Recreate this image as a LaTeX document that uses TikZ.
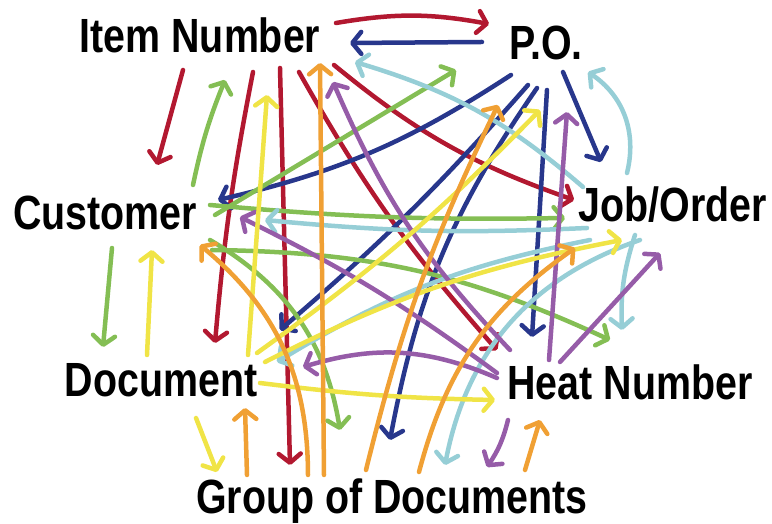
\documentclass[tikz,border=0pt]{standalone}
\usepackage{fontspec}
\setmainfont{Liberation Sans}
\usetikzlibrary{arrows.meta,calc}
\definecolor{itemred}{HTML}{B21830}
\definecolor{poblue}{HTML}{28378C}
\definecolor{custgreen}{HTML}{84BE54}
\definecolor{jobcyan}{HTML}{96CED6}
\definecolor{heatpurple}{HTML}{965CA8}
\definecolor{docyellow}{HTML}{F0E446}
\definecolor{grouporange}{HTML}{F0A034}
\begin{document}
\begin{tikzpicture}[x=1pt,y=1pt,
  entity/.style={font=\fontsize{48}{50}\selectfont\bfseries, xscale=0.82, anchor=base, inner sep=0pt},
  link/.style={line width=4.5pt, line cap=round, -{Straight Barb[length=9pt,width=22pt,round]}}]
\useasboundingbox (0,0) rectangle (772,524);
\node[entity] (item) at (200,471) {Item Number};
\node[entity] (po) at (546,464) {P.O.};
\node[entity] (cust) at (105,294) {Customer};
\node[entity] (job) at (673,302) {Job/Order};
\node[entity] (doc) at (161,127) {Document};
\node[entity] (heat) at (630,124) {Heat Number};
\node[entity] (group) at (392,10) {Group of Documents};
% item number
\draw[link,itemred] ($(item.base)+(136,30)$) to[bend left=10] ($(po.base)+(-57,36)$);
\draw[link,itemred] ($(item.base)+(-17,-17)$) -- ($(cust.base)+(52,65)$);
\draw[link,itemred] ($(item.base)+(53,-19)$) to[bend right=3] ($(doc.base)+(54,54)$);
\draw[link,itemred] ($(item.base)+(80,-15)$) -- ($(group.base)+(-102,49)$);
\draw[link,itemred] ($(item.base)+(134,-12)$) to[bend right=10] ($(job.base)+(-99,22)$);
\draw[link,itemred] ($(item.base)+(99,-19)$) to[bend right=6] ($(heat.base)+(-133,50)$);
% p.o.
\draw[link,poblue] ($(po.base)+(-64,18)$) -- ($(item.base)+(150,10)$);
\draw[link,poblue] ($(po.base)+(-35,-15)$) to[bend left=10] ($(cust.base)+(113,30)$);
\draw[link,poblue] ($(po.base)+(-18,-25)$) to[bend left=4] ($(doc.base)+(119,67)$);
\draw[link,poblue] ($(po.base)+(-9,-28)$) to[bend right=12] ($(group.base)+(-2,74)$);
\draw[link,poblue] ($(po.base)+(1,-30)$) -- ($(heat.base)+(-98,63)$);
\draw[link,poblue] ($(po.base)+(17,-12)$) -- ($(job.base)+(-72,60)$);
% customer
\draw[link,custgreen] ($(cust.base)+(88,45)$) to[bend left=5] ($(item.base)+(25,-27)$);
\draw[link,custgreen] ($(cust.base)+(110,15)$) -- ($(po.base)+(-90,-10)$);
\draw[link,custgreen] ($(cust.base)+(105,25)$) to[bend right=3] ($(job.base)+(-108,4)$);
\draw[link,custgreen] ($(cust.base)+(107,-20)$) to[bend left=12] ($(heat.base)+(-20,60)$);
\draw[link,custgreen] ($(cust.base)+(105,-10)$) to[bend left=25] ($(group.base)+(-52,84)$);
\draw[link,custgreen] ($(cust.base)+(7,-18)$) -- ($(doc.base)+(-58,50)$);
% job/order
\draw[link,jobcyan] ($(job.base)+(-46,49)$) to[bend right=35] ($(po.base)+(42,-12)$);
\draw[link,jobcyan] ($(job.base)+(-90,35)$) to[bend right=12] ($(item.base)+(155,-9)$);
\draw[link,jobcyan] ($(job.base)+(-86,-6)$) to[bend left=4] ($(cust.base)+(160,10)$);
\draw[link,jobcyan] ($(job.base)+(-83,-18)$) to[bend right=10] ($(doc.base)+(116,35)$);
\draw[link,jobcyan] ($(job.base)+(-33,-18)$) to[bend right=30] ($(group.base)+(53,49)$);
\draw[link,jobcyan] ($(job.base)+(-38,-13)$) to[bend right=10] ($(heat.base)+(-8,70)$);
% heat number
\draw[link,heatpurple] ($(heat.base)+(-120,50)$) to[bend left=10] ($(item.base)+(133,-29)$);
\draw[link,heatpurple] ($(heat.base)+(-133,27)$) to[bend right=5] ($(cust.base)+(135,13)$);
\draw[link,heatpurple] ($(heat.base)+(-133,22)$) to[bend right=20] ($(doc.base)+(142,30)$);
\draw[link,heatpurple] ($(heat.base)+(-81,40)$) -- ($(po.base)+(21,-52)$);
\draw[link,heatpurple] ($(heat.base)+(-70,38)$) -- ($(job.base)+(-13,-31)$);
\draw[link,heatpurple] ($(heat.base)+(-122,-20)$) to[bend left=10] ($(group.base)+(95,47)$);
% document
\draw[link,docyellow] ($(doc.base)+(-14,42)$) -- ($(cust.base)+(47,-20)$);
\draw[link,docyellow] ($(doc.base)+(87,42)$) -- ($(item.base)+(67,-42)$);
\draw[link,docyellow] ($(doc.base)+(96,44)$) to[bend right=5] ($(po.base)+(-6,-50)$);
\draw[link,docyellow] ($(doc.base)+(104,35)$) to[bend left=8] ($(job.base)+(-51,-18)$);
\draw[link,docyellow] ($(doc.base)+(99,14)$) to[bend right=3] ($(heat.base)+(-135,0)$);
\draw[link,docyellow] ($(doc.base)+(35,-21)$) -- ($(group.base)+(-175,42)$);
% group of documents
\draw[link,grouporange] ($(group.base)+(-145,39)$) -- ($(doc.base)+(84,-11)$);
\draw[link,grouporange] ($(group.base)+(-68,39)$) -- ($(item.base)+(120,-10)$);
\draw[link,grouporange] ($(group.base)+(-84,39)$) to[bend right=25] ($(cust.base)+(95,-15)$);
\draw[link,grouporange] ($(group.base)+(-26,44)$) to[bend left=6] ($(po.base)+(-48,-45)$);
\draw[link,grouporange] ($(group.base)+(27,42)$) to[bend left=20] ($(job.base)+(-98,-26)$);
\draw[link,grouporange] ($(group.base)+(133,44)$) -- ($(heat.base)+(-90,-20)$);
\end{tikzpicture}
\end{document}
